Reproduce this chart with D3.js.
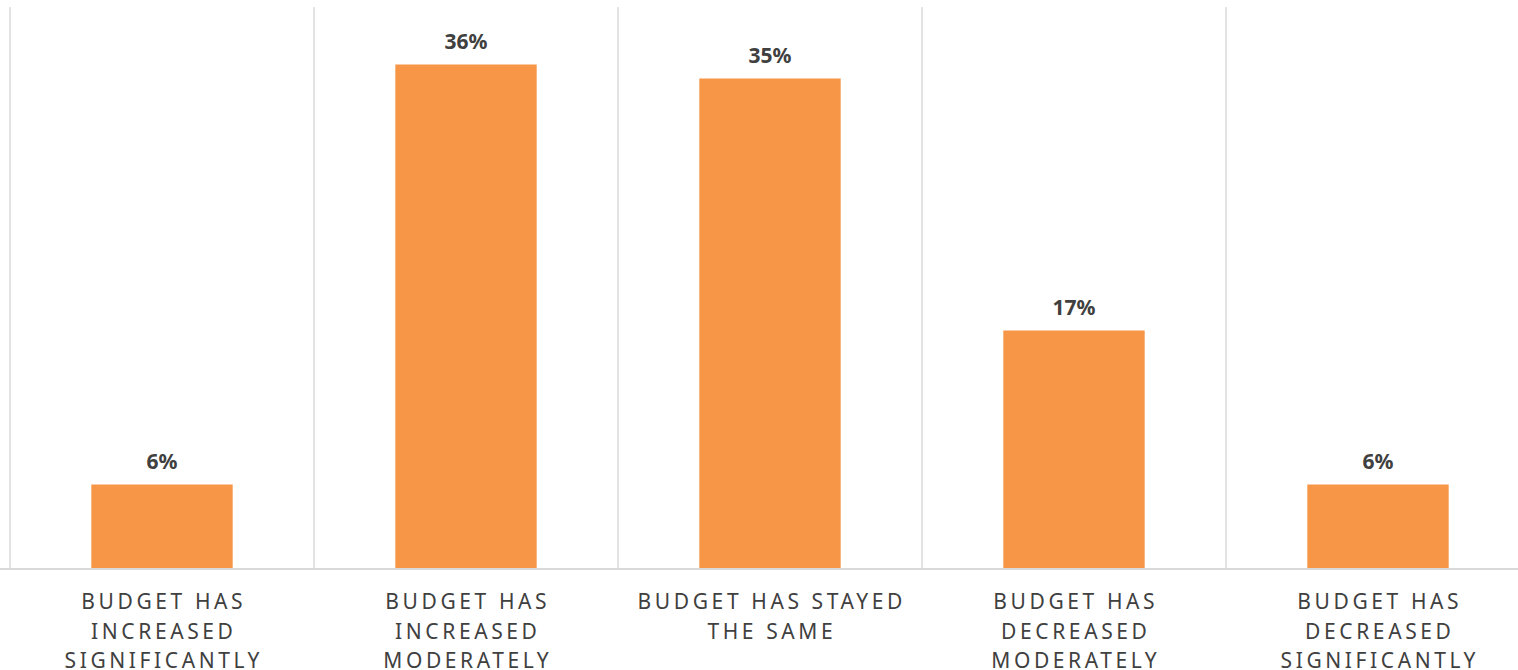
<!DOCTYPE html>
<html>
<head>
<meta charset="utf-8">
<script src="https://cdn.jsdelivr.net/npm/d3@7"></script>
<style>
  html, body { margin: 0; padding: 0; background: #ffffff; }
  svg { display: block; }
</style>
</head>
<body>
<svg id="chart" width="1518" height="670"></svg>
<script>
// Survey responses: how the budget has changed
const categories = [
  "Budget has increased significantly",
  "Budget has increased moderately",
  "Budget has stayed the same",
  "Budget has decreased moderately",
  "Budget has decreased significantly"
];
const shares = [6, 36, 35, 17, 6];
const yDomain = [0, 40];

(function draw() {
  const svg = d3.select("#chart");
  const W = 1518;
  const plotLeft = 10, plotRight = 1530, plotTop = 8.5, baseline = 568.5;

  const x = d3.scaleBand().domain(categories).range([plotLeft, plotRight]).paddingInner(0).paddingOuter(0);
  const y = d3.scaleLinear().domain(yDomain).range([baseline, plotTop]);

  const gridColor = "#d9d9d9";
  const barColor = "#f79646";
  const textColor = "#404040";
  const font = "'Noto Sans', 'Open Sans', sans-serif";

  // vertical category separators
  const bounds = categories.map(c => x(c)).concat([x(categories[categories.length - 1]) + x.bandwidth()]);
  svg.append("g").selectAll("line").data(bounds).join("line")
    .attr("x1", d => d).attr("x2", d => d)
    .attr("y1", 7).attr("y2", baseline)
    .attr("stroke", gridColor).attr("stroke-width", 1.4);

  // bars
  const barW = x.bandwidth() * 0.465;
  svg.append("g").selectAll("rect").data(categories).join("rect")
    .attr("x", c => x(c) + (x.bandwidth() - barW) / 2)
    .attr("width", barW)
    .attr("y", (c, i) => y(shares[i]))
    .attr("height", (c, i) => baseline - y(shares[i]))
    .attr("fill", barColor);

  // baseline axis
  svg.append("line")
    .attr("x1", 0).attr("x2", W)
    .attr("y1", baseline + 0.5).attr("y2", baseline + 0.5)
    .attr("stroke", gridColor).attr("stroke-width", 2);

  // value labels
  svg.append("g").selectAll("text").data(categories).join("text")
    .attr("x", c => x(c) + x.bandwidth() / 2)
    .attr("y", (c, i) => y(shares[i]) - 16)
    .attr("text-anchor", "middle")
    .attr("font-family", font)
    .attr("font-weight", "bold")
    .attr("font-size", 21)
    .attr("fill", textColor)
    .text((c, i) => shares[i] + "%");

  // category labels, wrapped inside each band
  const spacing = 3.6;
  const lineH = 29.5;
  const maxW = 280;
  const labels = svg.append("g");
  categories.forEach(c => {
    const words = c.toUpperCase().split(" ");
    const t = labels.append("text")
      .attr("font-family", font)
      .attr("font-size", 21)
      .attr("letter-spacing", spacing)
      .attr("fill", textColor)
      .attr("text-anchor", "middle");
    const lines = [];
    let cur = [];
    const probe = t.append("tspan");
    words.forEach(w => {
      const test = cur.concat([w]).join(" ");
      probe.text(test);
      if (cur.length && probe.node().getComputedTextLength() > maxW) {
        lines.push(cur.join(" "));
        cur = [w];
      } else {
        cur.push(w);
      }
    });
    lines.push(cur.join(" "));
    probe.remove();
    lines.forEach((ln, i) => {
      t.append("tspan")
        .attr("x", x(c) + x.bandwidth() / 2 + spacing / 2)
        .attr("y", 609 + i * lineH)
        .text(ln);
    });
  });
})();
</script>
</body>
</html>
